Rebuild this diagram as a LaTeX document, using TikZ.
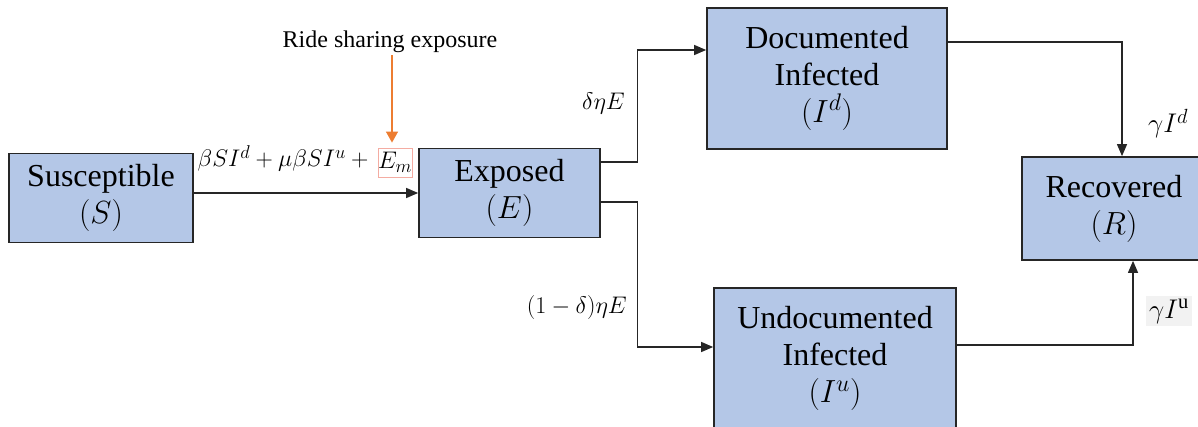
\RequirePackage{fix-cm}
\documentclass[tikz,border=0pt]{standalone}
\usepackage{fontspec}
\setmainfont{Liberation Serif}
\usetikzlibrary{arrows.meta}

% larger script sizes for the rate labels
\DeclareMathSizes{24}{24}{18.5}{14}
\DeclareMathSizes{27}{27}{20.5}{15}
\DeclareMathSizes{32}{32}{24}{18}

\definecolor{boxblue}{HTML}{B4C7E7}
\definecolor{edgegray}{HTML}{262626}
\definecolor{rideorange}{HTML}{ED7D31}
\definecolor{termred}{HTML}{F4ACA2}
\definecolor{shade}{HTML}{F2F2F2}

\tikzset{
  x=1pt, y=-1pt,
  stage/.style={draw=edgegray, line width=1.7pt, fill=boxblue, align=center,
    font=\rmfamily\fontsize{32}{37}\selectfont, inner sep=0pt},
  flow/.style={draw=edgegray, line width=1.2pt, -{Triangle[length=12pt,width=10pt]}},
  rate/.style={font=\fontsize{24}{28}\selectfont, inner sep=0pt},
  bigrate/.style={font=\fontsize{27}{31}\selectfont, inner sep=0pt},
}

\begin{document}
\begin{tikzpicture}
\useasboundingbox (0,0) rectangle (1198,427);

% compartments
\node[stage, minimum width=184pt, minimum height=89pt] (S) at (101,198) {Susceptible\\$(S)$};
\node[stage, minimum width=181pt, minimum height=89pt] (E) at (509.5,193) {Exposed\\$(E)$};
\node[stage, minimum width=240pt, minimum height=141pt] (D) at (827,78.5) {Documented\\Infected\\$(I^d)$};
\node[stage, minimum width=242pt, minimum height=141pt] (U) at (835,358.5) {Undocumented\\Infected\\$(I^u)$};
\node[stage, minimum width=184pt, minimum height=103pt] (R) at (1114,208.5) {Recovered\\$(R)$};

% infection term with the ride sharing contribution boxed
\node[rate, anchor=base east] (force) at (374,167) {$\beta S I^d + \mu\beta S I^u +{}$};
\node[rate, draw=termred, line width=0.8pt, minimum width=34pt, minimum height=29pt] (Em) at (395,162.5) {$E_m$};
\node[font=\fontsize{24}{28}\selectfont, anchor=base, inner sep=2pt] (ride) at (390,48) {Ride sharing exposure};
\draw[rideorange, line width=1.3pt, -{Triangle[length=11pt,width=12pt]}, shorten >=5pt]
  ([xshift=2pt]ride.south) -- ([xshift=2pt]ride.south |- Em.north);

% transitions
\draw[flow] (S.east |- E.west) -- (E.west);

\coordinate (eUp) at ([yshift=31pt]E.east);
\coordinate (dIn) at ([yshift=28.5pt]D.west);
\draw[flow] (eUp) -- ++(37,0) |- (dIn);

\coordinate (eDown) at ([yshift=-9pt]E.east);
\coordinate (uIn) at ([yshift=11.5pt]U.west);
\draw[flow] (eDown) -- ++(37,0) |- (uIn);

\coordinate (dOut) at ([yshift=36.5pt]D.east);
\coordinate (rTop) at ([xshift=8pt]R.north);
\draw[flow] (dOut) -| (rTop);

\coordinate (uOut) at ([yshift=13.5pt]U.east);
\coordinate (rBot) at ([xshift=19pt]R.south);
\draw[flow] (uOut) -| (rBot);

% rates
\node[rate, anchor=base east] (toD) at (625,110) {$\delta\eta E$};
\node[rate, anchor=base east] (toU) at (627,313) {$(1-\delta)\eta E$};
\node[bigrate, anchor=base west] (recD) at (1148,133) {$\gamma I^d$};
\node[bigrate, anchor=base west, fill=shade, inner sep=3pt] (recU) at (1146,318) {$\gamma I^{\mathrm{u}}$};
\end{tikzpicture}
\end{document}
